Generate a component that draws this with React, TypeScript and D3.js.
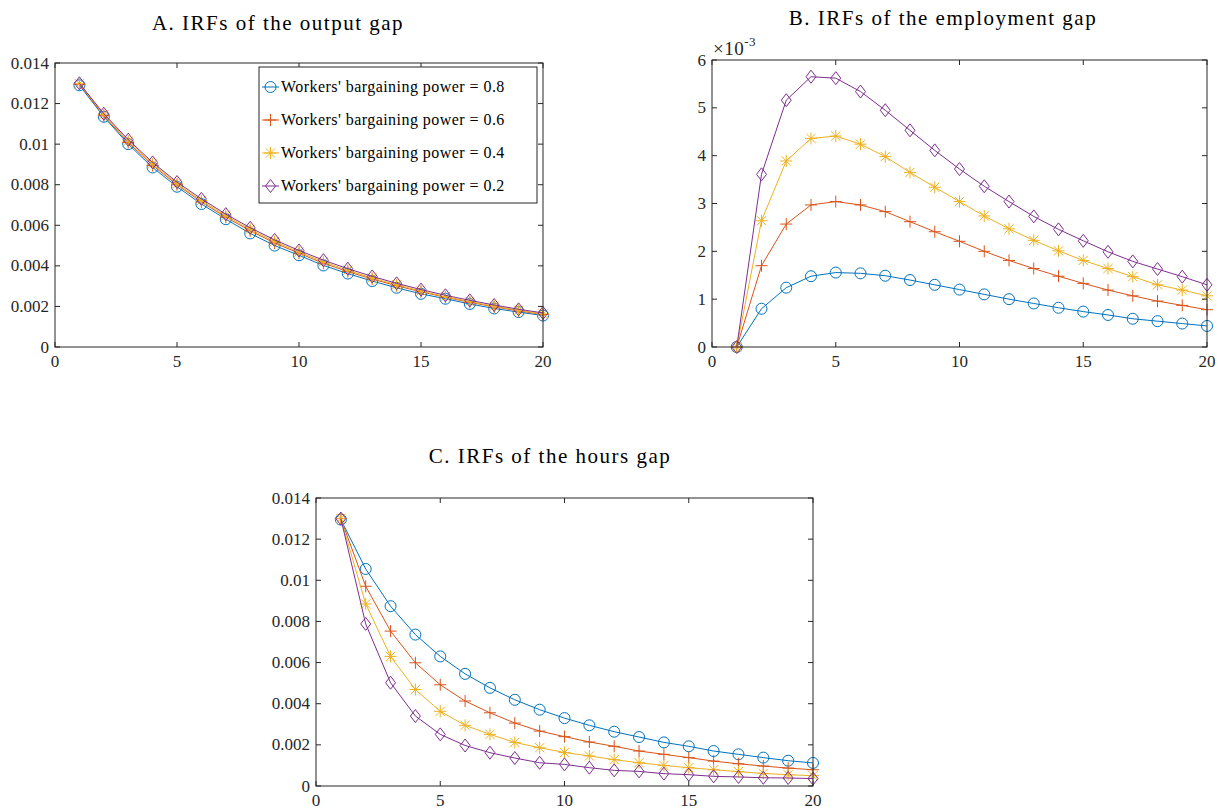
import React from "react";
import * as d3 from "d3";

const periods = d3.range(1, 21);
const seriesNames = [
  "Workers' bargaining power = 0.8",
  "Workers' bargaining power = 0.6",
  "Workers' bargaining power = 0.4",
  "Workers' bargaining power = 0.2",
];
const colors = ["#0072BD", "#D95319", "#EDB120", "#7E2F8E"];
const markers = ["circle", "plus", "asterisk", "diamond"];

// Panel A: output gap
const outA08 = [0.0129, 0.01135, 0.01, 0.00885, 0.0079, 0.00705, 0.0063, 0.0056, 0.005, 0.00452, 0.00402, 0.00362, 0.00325, 0.00292, 0.00262, 0.00238, 0.00212, 0.0019, 0.00172, 0.00155];
const outA06 = [0.01295, 0.0114, 0.01008, 0.00895, 0.008, 0.00715, 0.0064, 0.00573, 0.00513, 0.00462, 0.00413, 0.00372, 0.00335, 0.00302, 0.00272, 0.00245, 0.0022, 0.00198, 0.00178, 0.0016];
const outA04 = [0.01298, 0.01145, 0.01015, 0.00903, 0.00805, 0.00722, 0.00647, 0.0058, 0.0052, 0.00468, 0.0042, 0.00378, 0.0034, 0.00307, 0.00276, 0.00248, 0.00224, 0.00201, 0.00181, 0.00163];
const outA02 = [0.013, 0.0115, 0.01022, 0.0091, 0.00813, 0.0073, 0.00655, 0.00588, 0.00528, 0.00476, 0.00428, 0.00386, 0.00348, 0.00314, 0.00283, 0.00255, 0.0023, 0.00207, 0.00186, 0.00168];

// Panel B: employment gap (x 10^-3)
const empB08 = [0, 0.8, 1.24, 1.48, 1.556, 1.54, 1.49, 1.4, 1.3, 1.2, 1.1, 1.0, 0.91, 0.82, 0.74, 0.67, 0.59, 0.54, 0.49, 0.44];
const empB06 = [0, 1.7, 2.57, 2.97, 3.04, 2.97, 2.83, 2.62, 2.41, 2.21, 2.0, 1.81, 1.64, 1.48, 1.33, 1.19, 1.07, 0.96, 0.87, 0.78];
const empB04 = [0, 2.64, 3.89, 4.36, 4.41, 4.24, 3.98, 3.65, 3.34, 3.04, 2.74, 2.47, 2.23, 2.01, 1.81, 1.64, 1.47, 1.3, 1.19, 1.07];
const empB02 = [0, 3.61, 5.16, 5.65, 5.62, 5.34, 4.95, 4.53, 4.11, 3.72, 3.36, 3.04, 2.73, 2.46, 2.22, 1.99, 1.79, 1.63, 1.47, 1.3];

// Panel C: hours gap
const hrsC08 = [0.01295, 0.01055, 0.00874, 0.00736, 0.0063, 0.00545, 0.00477, 0.00419, 0.00371, 0.0033, 0.00295, 0.00264, 0.00238, 0.00212, 0.00193, 0.0017, 0.00154, 0.00138, 0.00123, 0.00112];
const hrsC06 = [0.013, 0.00971, 0.00753, 0.00599, 0.00492, 0.00413, 0.00356, 0.00306, 0.00267, 0.0024, 0.00214, 0.00193, 0.0017, 0.00154, 0.00138, 0.00121, 0.00108, 0.00097, 0.00087, 0.00079];
const hrsC04 = [0.013, 0.00885, 0.0063, 0.00469, 0.00363, 0.00295, 0.00251, 0.00212, 0.00186, 0.00163, 0.00146, 0.00128, 0.00113, 0.001, 0.00089, 0.00079, 0.0007, 0.00061, 0.00055, 0.0005];
const hrsC02 = [0.013, 0.00788, 0.00502, 0.0034, 0.00251, 0.00197, 0.00162, 0.00136, 0.00113, 0.00105, 0.00089, 0.00076, 0.00071, 0.0006, 0.00055, 0.00047, 0.00044, 0.0004, 0.00039, 0.00036];

const xTicks = [0, 5, 10, 15, 20];
const yTicksSmall = [0, 0.002, 0.004, 0.006, 0.008, 0.01, 0.012, 0.014];
const yTickLabelsSmall = ["0", "0.002", "0.004", "0.006", "0.008", "0.01", "0.012", "0.014"];
const yTicksB = [0, 1, 2, 3, 4, 5, 6];
const yTickLabelsB = ["0", "1", "2", "3", "4", "5", "6"];

const FONT = "Liberation Serif, DejaVu Serif, serif";
const AX = "#262626";

function Marker({ type, x, y, color }: { type: string; x: number; y: number; color: string }) {
  const sw = 1;
  if (type === "circle") return <circle cx={x} cy={y} r={5.5} fill="none" stroke={color} strokeWidth={sw} />;
  if (type === "plus")
    return (
      <path d={`M${x - 6},${y}H${x + 6}M${x},${y - 6}V${y + 6}`} stroke={color} strokeWidth={sw} fill="none" />
    );
  if (type === "asterisk") {
    const a = 4.6;
    return (
      <path
        d={`M${x - 6},${y}H${x + 6}M${x},${y - 6}V${y + 6}M${x - a},${y - a}L${x + a},${y + a}M${x - a},${y + a}L${x + a},${y - a}`}
        stroke={color}
        strokeWidth={sw}
        fill="none"
      />
    );
  }
  return (
    <path d={`M${x},${y - 6.5}L${x + 5},${y}L${x},${y + 6.5}L${x - 5},${y}Z`} stroke={color} strokeWidth={sw} fill="none" />
  );
}

type PanelProps = {
  left: number;
  top: number;
  right: number;
  bottom: number;
  yMax: number;
  yTicks: number[];
  yLabels: string[];
  data: number[][];
  title: string;
  titleX: number;
  titleY: number;
  exponent?: boolean;
  legend?: boolean;
};

const textStyle = (size: number, ls = 0) => ({ fontFamily: FONT, fontSize: size, letterSpacing: ls });

function Panel(p: PanelProps) {
  const x = d3.scaleLinear().domain([0, 20]).range([p.left, p.right]);
  const y = d3.scaleLinear().domain([0, p.yMax]).range([p.bottom, p.top]);
  const line = d3
    .line<number>()
    .x((_, i) => x(periods[i]))
    .y((d) => y(d));
  const tl = 5;
  return (
    <g>
      <text x={p.titleX} y={p.titleY} textAnchor="middle" style={textStyle(21, 1.5)} fill="#000">
        {p.title}
      </text>
      <rect x={p.left} y={p.top} width={p.right - p.left} height={p.bottom - p.top} fill="#fff" />
      {p.data.map((s, k) => (
        <g key={k}>
          <path d={line(s) || ""} fill="none" stroke={colors[k]} strokeWidth={1} />
          {s.map((v, i) => (
            <Marker key={i} type={markers[k]} x={x(periods[i])} y={y(v)} color={colors[k]} />
          ))}
        </g>
      ))}
      {xTicks.map((t) => (
        <g key={"x" + t}>
          <line x1={x(t)} x2={x(t)} y1={p.bottom} y2={p.bottom - tl} stroke={AX} />
          <line x1={x(t)} x2={x(t)} y1={p.top} y2={p.top + tl} stroke={AX} />
          <text x={x(t)} y={p.bottom + 20} textAnchor="middle" style={textStyle(17)} fill={AX}>
            {t}
          </text>
        </g>
      ))}
      {p.yTicks.map((t, i) => (
        <g key={"y" + t}>
          <line x1={p.left} x2={p.left + tl} y1={y(t)} y2={y(t)} stroke={AX} />
          <line x1={p.right} x2={p.right - tl} y1={y(t)} y2={y(t)} stroke={AX} />
          <text x={p.left - 6} y={y(t)} dy="0.33em" textAnchor="end" style={textStyle(17)} fill={AX}>
            {p.yLabels[i]}
          </text>
        </g>
      ))}
      <rect x={p.left} y={p.top} width={p.right - p.left} height={p.bottom - p.top} fill="none" stroke={AX} strokeWidth={1} />
      {p.exponent && (
        <text x={p.left + 1} y={p.top - 5} style={textStyle(19, 0.5)} fill={AX}>
          ×10
          <tspan dy={-9} style={{ fontSize: 13 }}>
            -3
          </tspan>
        </text>
      )}
      {p.legend && (
        <g>
          <rect x={259} y={67} width={278} height={136} fill="#fff" stroke={AX} strokeWidth={1} />
          {seriesNames.map((n, k) => {
            const cy = 87 + k * 33;
            return (
              <g key={n}>
                <line x1={262} x2={279} y1={cy} y2={cy} stroke={colors[k]} strokeWidth={1} />
                <Marker type={markers[k]} x={270.5} y={cy} color={colors[k]} />
                <text x={281} y={cy} dy="0.33em" style={textStyle(16, 0.45)} fill="#000">
                  {n}
                </text>
              </g>
            );
          })}
        </g>
      )}
    </g>
  );
}

export default function App() {
  return (
    <svg width={1218} height={810} style={{ display: "block", position: "absolute", left: 0, top: 0 }}>
      <rect width={1218} height={810} fill="#fff" />
      <Panel
        left={55}
        top={63}
        right={543}
        bottom={347}
        yMax={0.014}
        yTicks={yTicksSmall}
        yLabels={yTickLabelsSmall}
        data={[outA08, outA06, outA04, outA02]}
        title="A. IRFs of the output gap"
        titleX={278}
        titleY={30}
        legend
      />
      <Panel
        left={712}
        top={60}
        right={1207}
        bottom={347}
        yMax={6}
        yTicks={yTicksB}
        yLabels={yTickLabelsB}
        data={[empB08, empB06, empB04, empB02]}
        title="B. IRFs of the employment gap"
        titleX={943}
        titleY={25}
        exponent
      />
      <Panel
        left={316}
        top={498}
        right={813}
        bottom={786}
        yMax={0.014}
        yTicks={yTicksSmall}
        yLabels={yTickLabelsSmall}
        data={[hrsC08, hrsC06, hrsC04, hrsC02]}
        title="C. IRFs of the hours gap"
        titleX={550}
        titleY={463}
      />
    </svg>
  );
}
